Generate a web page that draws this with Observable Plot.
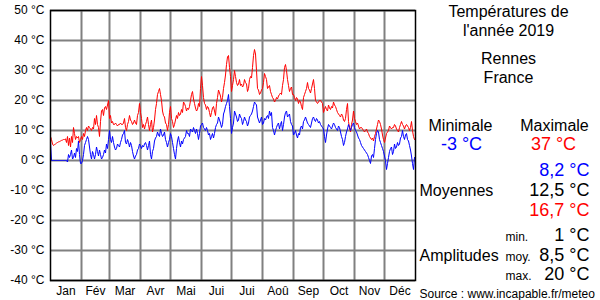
<!DOCTYPE html>
<html>
<head>
<meta charset="utf-8">
<script src="https://cdn.jsdelivr.net/npm/d3@7"></script>
<script src="https://cdn.jsdelivr.net/npm/@observablehq/plot@0.6"></script>
<style>
  html, body { margin: 0; padding: 0; background: #fff; }
  #chart svg { display: block; }
</style>
</head>
<body>
<div id="chart"></div>
<script>
// ---- Data ----
const year = 2019;
const monthLabels = ["Jan", "Fév", "Mar", "Avr", "Mai", "Jui", "Jui", "Aoû", "Sep", "Oct", "Nov", "Déc"];
const yTicks = [-40, -30, -20, -10, 0, 10, 20, 30, 40, 50];

// Daily maximum temperatures (°C)
const maxJan = [8,7,5.5,5,5.3,5.5,5.8,6,6.2,6.3,6.5,6.7,6.8,7,7,7.2,6,8,5,7.5,4.5,8,6,11,9,7,8,7.5,8,6,7];
const maxFeb = [8,7,9,8,10,11,10,11.5,11,10.5,10,11,10.5,14,12,15,12,11,8,13,16.5,17,15,17.5,18,17,18.5,20];
const maxMar = [14,15,12.5,13,12,12,12.5,12,11.5,12,12,12.5,12,12,12.5,14,11,10,12,13,15,13.5,13,12,12.5,13.5,12.5,12,15,16,19];
const maxApr = [16,14,11,12,10.5,12,13,14.5,12,10,12,13.5,9.5,11,13.5,17,19,22,23,24,22,20,16.5,15,14.5,12.5,12,10,12,16];
const maxMay = [18,14,13,11,12,13.5,15,14,16,15,15.5,17,16,19.5,19,18,16.5,17.5,17,18,20,22,23,20.5,19,17.5,16.5,17,19,18,24];
const maxJun = [28,25,21,19,18.5,17,18,17.5,16,14.5,16,17.5,18,16.5,15,19,21,23.5,22.5,21.5,19.5,21,24,26,28.5,32,34.5,35,31,28];
const maxJul = [23,25,27,30,28,26,25,25.5,27,25,25.5,24.5,25,27,26,25.5,23,24,27,28,27.5,31,35,37,35.5,30,24,23.5,22,22.5,23.5];
const maxAug = [24,26,29,28,27,24,24.5,25,23,22,21,20.5,19.5,20,21,20.5,21.5,22,22.5,22,25,27,31,32,30,27,25,23,24,24.5,22];
const maxSep = [22,21,20,21,20.5,19,20,19.5,18,17,21,22,23,24,26,24,23.5,22.5,24,25.5,27,24,20,19.5,19,19.5,20,20,19.5,19];
const maxOct = [16,17,18,17,16.5,18.5,17.5,17,18,17.5,19.5,18.5,18,17,16,15.5,15,14.5,15.5,15,13.5,13,14,17,19,13,11,9.5,12,13.5,16.5];
const maxNov = [14,13,12,12.5,11.5,10.5,11,11,10.5,10,9.5,10,10.5,9.5,9,8,7.5,7,7.5,6.5,8,9,10.5,12,13.5,13,12,10.5,8.5,7];
const maxDec = [6,7.5,9,9.5,10,11.5,11,10.5,11,11,12,11.5,10.5,10,9.5,11,12,13,12,11.5,10.5,11.5,12,11.5,11,10,11,13,10,8,7];

// Daily minimum temperatures (°C)
const minJan = [6,0,0,0,0,0,0,0,0,0,0,0,0,0,0,0,0,-0.5,2,1,2,3.5,0.5,1,2.5,1,4,3,6.5,2,-1];
const minFeb = [-1,0,2,5,6,7,8,7,4.5,2,0.5,3,2,0.5,2,4.5,3,1.5,3.5,2,0.5,1,2,3.5,2.5,5.5,4,7];
const minMar = [10,7,6,8,6,4.5,3.5,4,5.5,5,4.5,6,7,8.5,9,10,6,5.5,7,6,4.5,6,5,3,1.5,0.5,1.5,2,3.5,4,5.5];
const minApr = [5,4,5,4.5,5.5,6,5,3.5,5,6.5,2,0.5,3,4,6.5,7.5,8,9.5,8.5,8,10.5,9,8,8.5,9.5,7,6,4.5,6,7];
const minMay = [9,8,6,4,2,0.5,4,6.5,8,6,4.5,6.5,5.5,7,7.5,8,10,9,9,8,10.5,10,9.5,11,10,9,10.5,9,7,9,11.5];
const minJun = [12,12.5,11,10.5,10,11,10,8.5,9,7,8,9,7.5,9,11,12,12.5,14.5,13.5,12.5,11,12,15.5,16.5,18,19,20,22,18,14];
const minJul = [9,11,12.5,16.5,15.5,14.5,13,13.5,15.5,14.5,14,12,13,14.5,13.5,13,11.5,12.5,14.5,15,15.5,16.5,18,19.5,19,18.5,14.5,13.5,12.5,13.5,14.5];
const minAug = [12,12.5,14,13.5,14.5,15,14,16.5,15,16,11,10,8.5,10,11,12,12.5,10.5,12,13,10,12,14.5,16,16.5,14.5,15,15.5,13,12,11.5];
const minSep = [8.5,9,10,8.5,7.5,9,8.5,11,11.5,10.5,13,13.5,14.5,13.5,12.5,12,11.5,11,12.5,14,14.5,13.5,13,14,13.5,12.5,13,12,11.5,11];
const minOct = [10.5,8,6,8.5,10.5,12,11.5,11,10.5,11.5,12.5,12,11,10.5,10,11.5,11,9.5,8,7,5,6,8,9.5,10.5,12,11,10,11,12,12.5];
const minNov = [11,10,9.5,8.5,7.5,7,6,5,4.5,4,3.5,3,2.5,2,1,0,-1,1.5,2,1,4,7,9,10,9.5,7,6,5,4,3];
const minDec = [1.5,0,-3,-1,1,3,4,4.5,2,3,5.5,4,4.5,6,5,5.5,7.5,8,10,8,7,8.5,9,7,6.5,5,3.5,1.5,-1,-3,1];

// Panel texts
const titleLines = ["Températures de", "l'année 2019"];
const placeLines = ["Rennes", "France"];
const extremeLabels = ["Minimale", "Maximale"];
const extremeValues = ["-3 °C", "37 °C"];
const meanLabel = "Moyennes";
const meanValues = ["8,2 °C", "12,5 °C", "16,7 °C"];
const amplitudeLabel = "Amplitudes";
const amplitudeKinds = ["min.", "moy.", "max."];
const amplitudeValues = ["1 °C", "8,5 °C", "20 °C"];
const sourceText = "Source : www.incapable.fr/meteo";

// ---- Build table ----
const maxByMonth = [maxJan, maxFeb, maxMar, maxApr, maxMay, maxJun, maxJul, maxAug, maxSep, maxOct, maxNov, maxDec];
const minByMonth = [minJan, minFeb, minMar, minApr, minMay, minJun, minJul, minAug, minSep, minOct, minNov, minDec];
const rows = [];
maxByMonth.forEach((arr, m) => arr.forEach((v, i) => {
  rows.push({date: new Date(Date.UTC(year, m, i + 1)), tmax: v, tmin: minByMonth[m][i]});
}));

const monthStarts = d3.range(13).map(m => new Date(Date.UTC(year, m, 1)));
const monthMids = d3.range(12).map(m => new Date((+monthStarts[m] + +monthStarts[m + 1]) / 2));

const FONT = "'Liberation Sans', Arial, Helvetica, sans-serif";
const L = 50, T = 10; // frame origin for panel text offsets

function label(str, x, y, opts = {}) {
  return Plot.text([str], {
    text: d => d,
    frameAnchor: "top-left",
    dx: x - L, dy: y - T,
    lineAnchor: "bottom",
    textAnchor: opts.anchor || "middle",
    fill: opts.fill || "black",
    fontSize: opts.size || 16,
    fontFamily: FONT
  });
}

const chart = Plot.plot({
  width: 600,
  height: 300,
  marginLeft: 50,
  marginRight: 185,
  marginTop: 10,
  marginBottom: 20,
  style: {fontFamily: FONT, fontSize: "12px", color: "black", background: "white", overflow: "visible"},
  x: {type: "utc", domain: [monthStarts[0], monthStarts[12]]},
  y: {domain: [-40, 50]},
  marks: [
    Plot.gridY(yTicks, {stroke: "#808080", strokeOpacity: 1, strokeWidth: 2}),
    Plot.gridX(monthStarts.slice(1, 12), {stroke: "#808080", strokeOpacity: 1, strokeWidth: 2}),
    Plot.lineY(rows, {x: "date", y: "tmax", stroke: "#ff0000", strokeWidth: 1}),
    Plot.lineY(rows, {x: "date", y: "tmin", stroke: "#0000ff", strokeWidth: 1}),
    Plot.frame({stroke: "black", strokeWidth: 1.5}),
    Plot.axisY(yTicks, {tickSize: 0, tickPadding: 6, tickFormat: d => `${d} °C`, fontSize: 12, label: null}),
    Plot.axisX(monthMids, {tickSize: 0, tickPadding: 6, tickFormat: d => monthLabels[d.getUTCMonth()], fontSize: 12, label: null}),
    label(titleLines[0], 508, 16),
    label(titleLines[1], 508, 35),
    label(placeLines[0], 508, 63),
    label(placeLines[1], 508, 82),
    label(extremeLabels[0], 460, 130),
    label(extremeLabels[1], 554, 130),
    label(extremeValues[0], 461, 149, {fill: "#0000ff", size: 18}),
    label(extremeValues[1], 553, 149, {fill: "#ff0000", size: 18}),
    label(meanValues[0], 589, 175, {anchor: "end", fill: "#0000ff", size: 18}),
    label(meanLabel, 419, 195, {anchor: "start"}),
    label(meanValues[1], 589, 195, {anchor: "end", size: 18}),
    label(meanValues[2], 589, 215, {anchor: "end", fill: "#ff0000", size: 18}),
    label(amplitudeKinds[0], 505, 240, {anchor: "start", size: 12}),
    label(amplitudeValues[0], 589, 240, {anchor: "end", size: 18}),
    label(amplitudeLabel, 419, 260, {anchor: "start"}),
    label(amplitudeKinds[1], 505, 260, {anchor: "start", size: 12}),
    label(amplitudeValues[1], 589, 260, {anchor: "end", size: 18}),
    label(amplitudeKinds[2], 505, 279, {anchor: "start", size: 12}),
    label(amplitudeValues[2], 589, 279, {anchor: "end", size: 18}),
    label(sourceText, 419, 297, {anchor: "start", size: 12})
  ]
});
document.getElementById("chart").appendChild(chart);
</script>
</body>
</html>
